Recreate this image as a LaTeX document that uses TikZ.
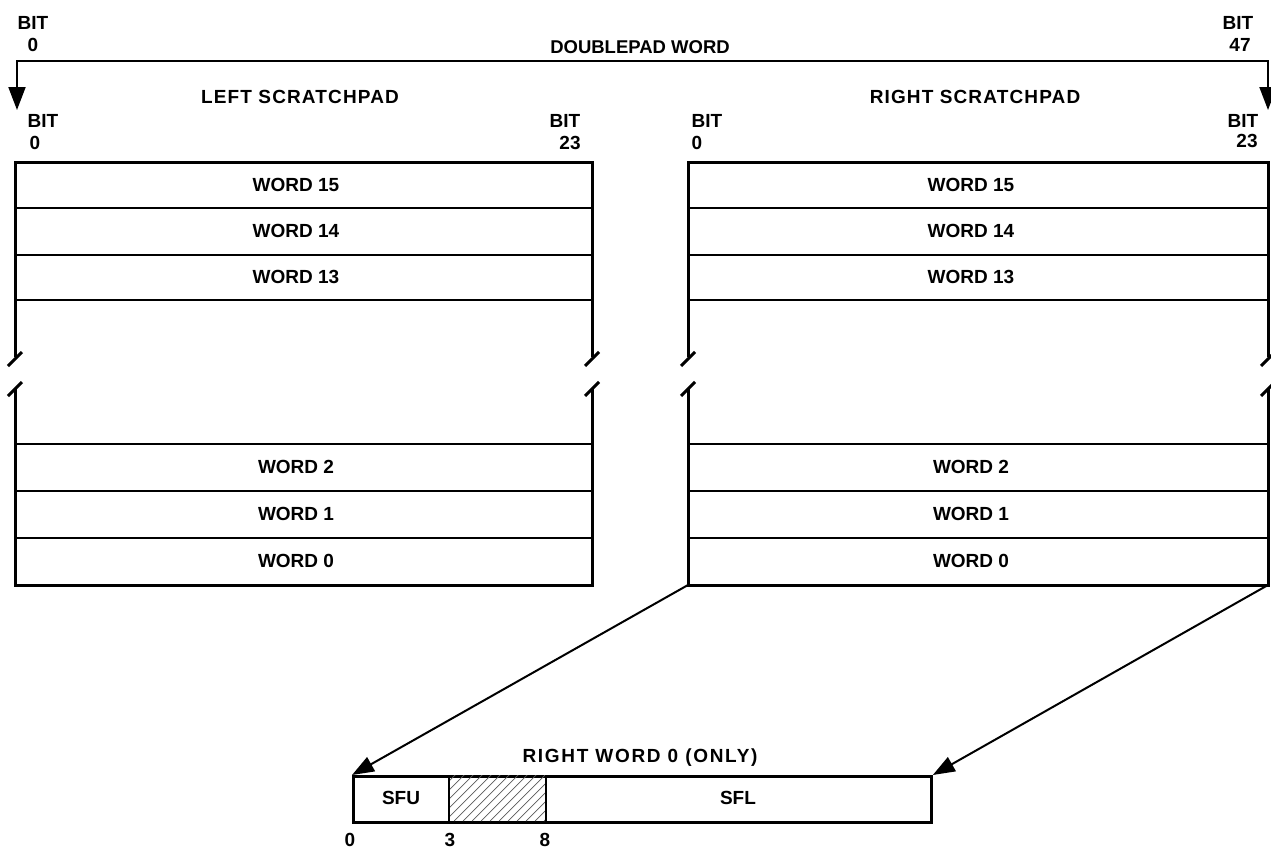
\documentclass[tikz,border=0pt]{standalone}
\usepackage{fontspec}
\setmainfont{Liberation Sans}
\usetikzlibrary{arrows.meta}
\tikzset{
  outer/.style={line width=3pt, line cap=butt},
  inner/.style={line width=2pt},
  conn/.style={line width=2pt, -{Triangle[length=22pt,width=16pt]}},
  lbl/.style={font=\fontsize{19}{22}\selectfont\bfseries, inner sep=0pt},
  hatch/.style={line width=0.7pt, black!65},
}
\newcommand\mypadbox[2]{%
  \draw[outer] (#1,357) -- (#1,162) -- (#2,162) -- (#2,357);
  \draw[outer] (#1,389) -- (#1,585) -- (#2,585) -- (#2,389);
  \foreach \yy in {208,255,300,444,491,538} \draw[inner] (#1,\yy) -- (#2,\yy);
  \foreach \xx in {#1,#2} {
    \draw[outer] ({\xx-7},366) -- ({\xx+7},352);
    \draw[outer] ({\xx-7},396) -- ({\xx+7},382);
  }
}
\begin{document}
\begin{tikzpicture}[x=1pt,y=-1pt]
\useasboundingbox (0,0) rectangle (1271,851);
% top doublepad arrow
\coordinate (dl) at (17,110);
\coordinate (dr) at (1268,110);
\coordinate (tl) at (17,61);
\coordinate (tr) at (1268,61);
\draw[line width=2pt, {Triangle[length=23pt,width=17pt]}-{Triangle[length=23pt,width=17pt]}] (dl) -- (tl) -- (tr) -- (dr);
\node[lbl] (b0t) at (33,23) {BIT};
\node[lbl] (n0t) at (33,45) {0};
\node[lbl] (b47) at (1238,23) {BIT};
\node[lbl] (n47) at (1240,45) {47};
\node[lbl, font=\fontsize{18.5}{22}\selectfont\bfseries] (dpw) at (640,47) {DOUBLEPAD WORD};
% scratchpad titles
\node[lbl, font=\fontsize{19}{22}\selectfont\bfseries\addfontfeature{LetterSpace=6}] (lsp) at (300,97) {LEFT SCRATCHPAD};
\node[lbl, font=\fontsize{19}{22}\selectfont\bfseries\addfontfeature{LetterSpace=6}] (rsp) at (975,97) {RIGHT SCRATCHPAD};
% bit labels
\node[lbl] (lb0) at (43,121) {BIT};
\node[lbl] (ln0) at (35,143) {0};
\node[lbl] (lb23) at (565,121) {BIT};
\node[lbl] (ln23) at (570,143) {23};
\node[lbl] (rb0) at (707,121) {BIT};
\node[lbl] (rn0) at (697,143) {0};
\node[lbl] (rb23) at (1243,121) {BIT};
\node[lbl] (rn23) at (1247,141) {23};
% boxes
\mypadbox{15}{592}
\mypadbox{688}{1268}
\foreach \cx/\s in {296/l,971/r} {
  \node[lbl] (\s w15) at (\cx,185) {WORD 15};
  \node[lbl] (\s w14) at (\cx,231) {WORD 14};
  \node[lbl] (\s w13) at (\cx,277) {WORD 13};
  \node[lbl] (\s w2) at (\cx,467) {WORD 2};
  \node[lbl] (\s w1) at (\cx,514) {WORD 1};
  \node[lbl] (\s w0) at (\cx,561) {WORD 0};
}
\coordinate (rbl) at (688,585);
\coordinate (rbr) at (1268,585);
% bottom word
\node[draw, line width=2.8pt, minimum width=578pt, minimum height=46pt, anchor=north west, inner sep=0pt] (rw) at (352,775) {};
\begin{scope}
\clip (449,775) rectangle (546,821);
\foreach \i in {0,...,17} \draw[hatch] ({400+\i*9},821) -- ++(60,-60);
\end{scope}
\draw[line width=2.2pt] (449,775) -- (449,821);
\draw[line width=2.2pt] (546,775) -- (546,821);
\node[lbl, font=\fontsize{19}{22}\selectfont\bfseries\addfontfeature{LetterSpace=9}] (rwt) at (640,758) {RIGHT WORD 0 (ONLY)};
\node[lbl] (sfu) at (401,798) {SFU};
\node[lbl] (sfl) at (738,798) {SFL};
\node[lbl] (t0) at (350,840) {0};
\node[lbl] (t3) at (450,840) {3};
\node[lbl] (t8) at (545,840) {8};
\draw[conn] (rbl) -- (rw.north west);
\draw[conn] (rbr) -- (rw.north east);
\end{tikzpicture}
\end{document}
